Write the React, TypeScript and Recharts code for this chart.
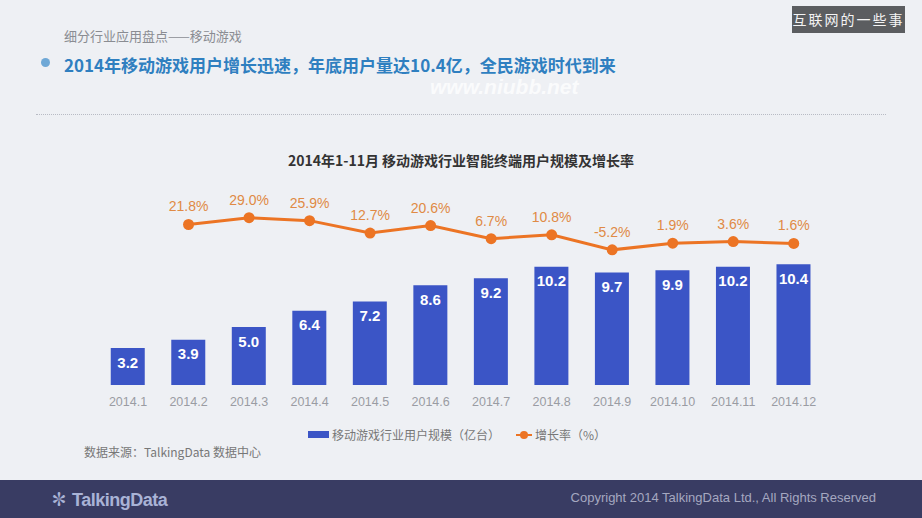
import { ComposedChart, Bar, Line, XAxis, YAxis, LabelList } from 'recharts';

// 2014 monthly mobile game users (100M) and month-over-month growth (%)
const months = ['2014.1', '2014.2', '2014.3', '2014.4', '2014.5', '2014.6', '2014.7', '2014.8', '2014.9', '2014.10', '2014.11', '2014.12'];
const users = [3.2, 3.9, 5.0, 6.4, 7.2, 8.6, 9.2, 10.2, 9.7, 9.9, 10.2, 10.4];
const growth = [null, 21.8, 29.0, 25.9, 12.7, 20.6, 6.7, 10.8, -5.2, 1.9, 3.6, 1.6];

const data = months.map((m, i) => ({ month: m, users: users[i], growth: growth[i] }));

const BLUE = '#3b55c6';
const ORANGE = '#ec7424';
const FONT = '"Liberation Sans", "Noto Sans CJK SC", Arial, sans-serif';
const CJK = '"Noto Sans CJK SC", "Liberation Sans", sans-serif';

export default function App() {
  return (
    <div style={{ position: 'absolute', left: 0, top: 0, width: 922, height: 518, background: '#eef0f4', overflow: 'hidden', fontFamily: CJK }}>
      <style>{'body{margin:0}'}</style>

      {/* header */}
      <div style={{ position: 'absolute', left: 64, top: 26, fontSize: 13, color: '#8a8c92' }}>细分行业应用盘点——移动游戏</div>
      <div style={{ position: 'absolute', left: 41, top: 58, width: 9, height: 9, borderRadius: 5, background: '#6fa8d6' }} />
      <div style={{ position: 'absolute', left: 64, top: 52, fontSize: 17, fontWeight: 'bold', color: '#2f7fc0' }}>
        2014年移动游戏用户增长迅速，年底用户量达10.4亿，全民游戏时代到来
      </div>
      <div style={{ position: 'absolute', left: 430, top: 76, fontSize: 21, lineHeight: '22px', fontStyle: 'italic', fontWeight: 'bold', color: 'rgba(255,255,255,0.75)', fontFamily: FONT }}>www.niubb.net</div>
      <div style={{ position: 'absolute', left: 36, top: 114, width: 850, borderTop: '1px dotted #b8bbc4' }} />
      <div style={{ position: 'absolute', left: 792, top: 6, width: 113, height: 27, background: '#5b5d60', color: '#f4f4f4', fontSize: 14, lineHeight: '27px', textAlign: 'center', letterSpacing: 2 }}>互联网的一些事</div>

      {/* chart title */}
      <div style={{ position: 'absolute', left: 0, width: 922, top: 150, textAlign: 'center', fontSize: 14, fontWeight: 'bold', color: '#333' }}>
        2014年1-11月 移动游戏行业智能终端用户规模及增长率
      </div>

      <div style={{ position: 'absolute', left: 0, top: 0 }}>
        <ComposedChart width={922} height={518} data={data} margin={{ top: 199.4, right: 98, bottom: 103, left: 97.75 }}>
          <XAxis dataKey="month" axisLine={false} tickLine={false} height={30} interval={0}
            tick={{ fill: '#9a9ca3', fontSize: 12.5, fontFamily: FONT }} tickMargin={6} />
          <YAxis yAxisId="l" hide domain={[0, 16]} />
          <YAxis yAxisId="r" hide orientation="right" domain={[-149, 48.5]} allowDataOverflow />
          <Bar yAxisId="l" dataKey="users" fill={BLUE} barSize={34} isAnimationActive={false}>
            <LabelList dataKey="users" position="insideTop" offset={9} fill="#fff" fontSize={15} fontWeight="bold" fontFamily={FONT}
              formatter={(v: number) => v.toFixed(1)} />
          </Bar>
          <Line yAxisId="r" dataKey="growth" stroke={ORANGE} strokeWidth={3} isAnimationActive={false}
            dot={{ r: 5.5, fill: ORANGE, stroke: ORANGE, strokeWidth: 0 }} connectNulls={false}>
            <LabelList dataKey="growth" position="top" offset={13} fill="#e08a45" fontSize={14} fontFamily={FONT}
              formatter={(v: number) => (v == null ? '' : v.toFixed(1) + '%')} />
          </Line>
        </ComposedChart>
      </div>

      {/* legend */}
      <div style={{ position: 'absolute', left: 308, top: 426, display: 'flex', alignItems: 'center', fontSize: 12, color: '#777' }}>
        <span style={{ display: 'inline-block', width: 21, height: 7, background: BLUE, marginRight: 3 }} />
        <span>移动游戏行业用户规模（亿台）</span>
        <span style={{ position: 'relative', display: 'inline-block', width: 16, height: 10, marginLeft: 16, marginRight: 3 }}>
          <span style={{ position: 'absolute', left: 0, top: 4, width: 16, height: 2, background: ORANGE }} />
          <span style={{ position: 'absolute', left: 4, top: 1, width: 8, height: 8, borderRadius: 4, background: ORANGE }} />
        </span>
        <span>增长率（%）</span>
      </div>
      <div style={{ position: 'absolute', left: 84, top: 443, fontSize: 12, color: '#777' }}>数据来源：TalkingData 数据中心</div>

      {/* footer */}
      <div style={{ position: 'absolute', left: 0, top: 480, width: 922, height: 38, background: '#393c63' }} />
      <div style={{ position: 'absolute', left: 50, top: 485, fontSize: 18, color: '#a9b3d6', fontFamily: FONT, fontWeight: 'bold', letterSpacing: -0.5 }}>✽ TalkingData</div>
      <div style={{ position: 'absolute', right: 46, top: 490, fontSize: 13, color: '#a5a8c0', fontFamily: FONT }}>Copyright 2014 TalkingData Ltd., All Rights Reserved</div>
    </div>
  );
}
